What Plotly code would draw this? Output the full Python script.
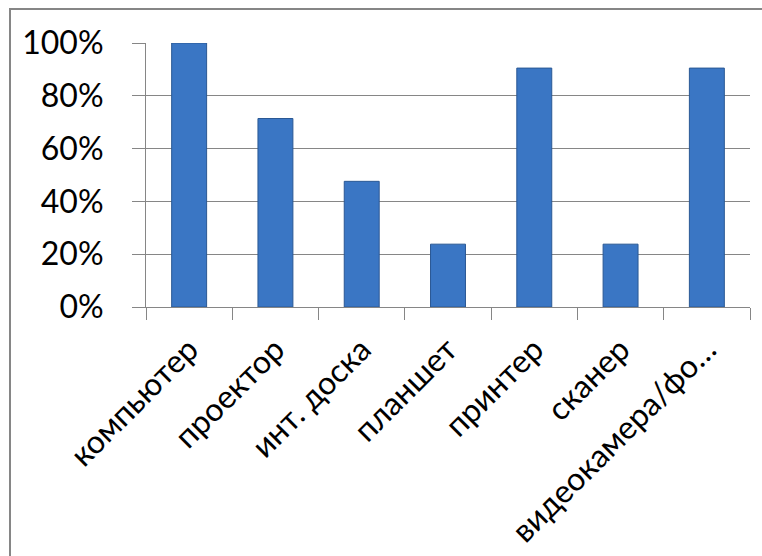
import plotly.graph_objects as go

categories = ["компьютер", "проектор", "инт. доска", "планшет", "принтер", "сканер", "видеокамера/фо…"]
values = [1.0, 0.714, 0.476, 0.238, 0.905, 0.238, 0.905]
y_ticks = [0, 0.2, 0.4, 0.6, 0.8, 1.0]
y_tick_labels = ["0%", "20%", "40%", "60%", "80%", "100%"]

W, H = 762, 556
ml, mr, mt, mb = 146, 12, 43, 249
pw, ph = W - ml - mr, H - mt - mb

fig = go.Figure(go.Bar(
    x=categories, y=values,
    marker=dict(color="#3A76C4", line=dict(color="#2A5894", width=1)),
))

def px_to_paper_x(px):
    return (px - ml) / pw

def px_to_paper_y(py):
    return (H - mb - py) / ph

fig.add_shape(type="rect", xref="paper", yref="paper",
              x0=px_to_paper_x(10), x1=px_to_paper_x(800),
              y0=px_to_paper_y(600), y1=px_to_paper_y(9),
              line=dict(color="#868686", width=2), fillcolor="rgba(0,0,0,0)", layer="below")

fig.update_layout(
    width=W, height=H,
    margin=dict(l=ml, r=mr, t=mt, b=mb, autoexpand=False),
    paper_bgcolor="white", plot_bgcolor="white",
    bargap=0.595,
    showlegend=False,
    font=dict(family="Lato, Liberation Sans, Arial, sans-serif", size=32, color="black"),
    xaxis=dict(
        tickangle=-45, showgrid=False, automargin=False,
        showline=True, linecolor="#868686", linewidth=1,
        ticks="outside", ticklen=12, tickcolor="#868686",
        tickson="boundaries",
        ticklabelstandoff=10,
        tickfont=dict(size=32),
    ),
    yaxis=dict(
        range=[0, 1], tickvals=y_ticks, ticktext=y_tick_labels,
        showgrid=True, gridcolor="#868686", gridwidth=1, automargin=False,
        showline=True, linecolor="#868686", linewidth=1,
        ticks="outside", ticklen=13, tickcolor="#868686",
        ticklabelstandoff=22, zeroline=False,
        tickfont=dict(size=32),
    ),
)

fig.write_html("out.html")
